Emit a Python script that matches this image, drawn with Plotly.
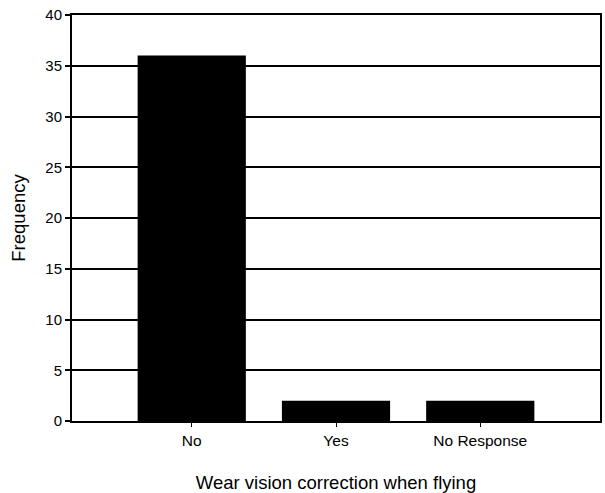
import plotly.graph_objects as go

categories = ["No", "Yes", "No Response"]
frequency = [36, 2, 2]
y_ticks = [0, 5, 10, 15, 20, 25, 30, 35, 40]

fig = go.Figure(go.Bar(
    x=categories, y=frequency, marker_color="black",
    marker_line_width=0, width=0.75,
))

fig.update_layout(
    width=605, height=493,
    margin=dict(l=72, r=3, t=15, b=71),
    paper_bgcolor="white", plot_bgcolor="white",
    font=dict(family="Arial, Liberation Sans, sans-serif", color="black", size=15),
    showlegend=False,
)
fig.update_xaxes(
    range=[-0.83, 2.83],
    showline=True, linecolor="black", linewidth=2, mirror=True,
    ticks="outside", ticklen=4, tickwidth=1, tickcolor="black",
    tickfont=dict(size=15.5),
    title=dict(text="Wear vision correction when flying", font=dict(size=18.5), standoff=28),
    showgrid=False,
)
fig.update_yaxes(
    range=[0, 40], tickvals=y_ticks,
    showline=True, linecolor="black", linewidth=2, mirror=True,
    ticks="outside", ticklen=5, tickwidth=2, tickcolor="black",
    tickfont=dict(size=15),
    showgrid=True, gridcolor="black", gridwidth=2,
    title=dict(text="Frequency", font=dict(size=18.5), standoff=15),
    zeroline=False,
)
fig.write_html("out.html", config={"displayModeBar": False},
               post_script="document.body.style.margin='0';")
